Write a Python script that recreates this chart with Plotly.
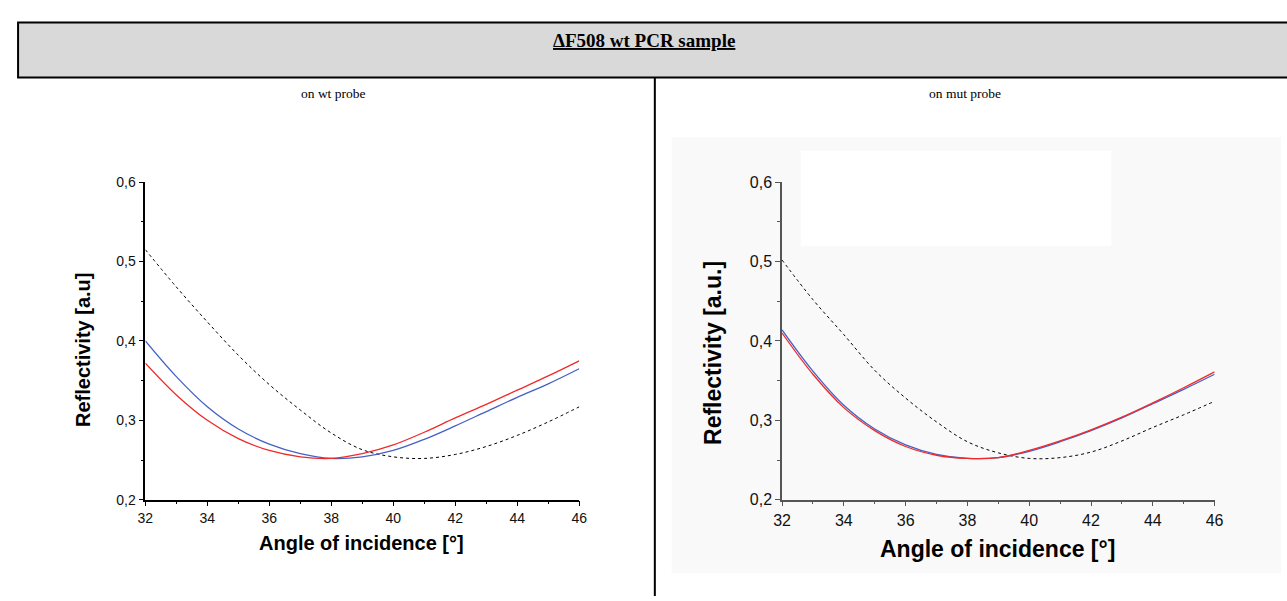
import plotly.graph_objects as go

W, H = 1287, 601

# ---------------- data ----------------
angles = [32, 33, 34, 35, 36, 37, 38, 39, 40, 41, 42, 43, 44, 45, 46]

wt_ref_dotted = [0.515, 0.468, 0.424, 0.382, 0.345, 0.313, 0.284, 0.263, 0.254, 0.252, 0.257, 0.267, 0.281, 0.298, 0.317]
wt_blue = [0.400, 0.355, 0.317, 0.289, 0.270, 0.258, 0.252, 0.254, 0.262, 0.276, 0.293, 0.311, 0.329, 0.346, 0.365]
wt_red = [0.372, 0.332, 0.300, 0.277, 0.262, 0.254, 0.252, 0.258, 0.269, 0.285, 0.303, 0.320, 0.338, 0.356, 0.375]

mut_ref_dotted = [0.502, 0.452, 0.408, 0.363, 0.328, 0.298, 0.273, 0.259, 0.252, 0.253, 0.260, 0.274, 0.291, 0.307, 0.324]
mut_blue = [0.414, 0.362, 0.319, 0.289, 0.269, 0.257, 0.252, 0.253, 0.261, 0.273, 0.287, 0.303, 0.321, 0.339, 0.358]
mut_red = [0.410, 0.358, 0.316, 0.287, 0.267, 0.256, 0.252, 0.253, 0.262, 0.274, 0.288, 0.304, 0.322, 0.341, 0.361]

x_tickvals = [32, 34, 36, 38, 40, 42, 44, 46]
x_ticktext = ["32", "34", "36", "38", "40", "42", "44", "46"]
y_tickvals = [0.2, 0.3, 0.4, 0.5, 0.6]
y_ticktext = ["0,2", "0,3", "0,4", "0,5", "0,6"]

title_text = "<b><u>ΔF508 wt PCR sample</u></b>"
left_sub = "on wt probe"
right_sub = "on mut probe"
y_title_left = "Reflectivity [a.u]"
y_title_right = "Reflectivity [a.u.]"
x_title = "Angle of incidence [°]"

BLUE = "#4461c4"
RED = "#f02a2a"


def px(x):
    return x / W


def py(y):
    return 1 - y / H


fig = go.Figure()

for xa, ya, dot, blue, red in [("x", "y", wt_ref_dotted, wt_blue, wt_red),
                               ("x2", "y2", mut_ref_dotted, mut_blue, mut_red)]:
    fig.add_trace(go.Scatter(x=angles, y=dot, mode="lines", xaxis=xa, yaxis=ya,
                             line=dict(color="black", width=1, dash="dot", shape="spline")))
    fig.add_trace(go.Scatter(x=angles, y=blue, mode="lines", xaxis=xa, yaxis=ya,
                             line=dict(color=BLUE, width=1.3, shape="spline")))
    fig.add_trace(go.Scatter(x=angles, y=red, mode="lines", xaxis=xa, yaxis=ya,
                             line=dict(color=RED, width=1.3, shape="spline")))


def xaxis_cfg(domain, color, fsize):
    return dict(domain=domain, range=[32, 46], tickmode="array", tickvals=x_tickvals,
                ticktext=x_ticktext, ticks="outside", ticklen=5, tickwidth=1.2, tickcolor=color,
                showline=True, linecolor=color, linewidth=1.6, showgrid=False, zeroline=False,
                tickfont=dict(family="Liberation Sans, Arial", size=fsize, color="#111"),
                minor=dict(tickmode="linear", tick0=32, dtick=1, ticks="outside", ticklen=3,
                           tickcolor=color, tickwidth=1.2, showgrid=False),
                fixedrange=True)


def yaxis_cfg(domain, anchor, color, fsize):
    return dict(domain=domain, anchor=anchor, range=[0.2, 0.6], tickmode="array",
                tickvals=y_tickvals, ticktext=y_ticktext, ticks="outside", ticklen=5,
                tickwidth=1.2, tickcolor=color, showline=True, linecolor=color, linewidth=1.6,
                showgrid=False, zeroline=False,
                tickfont=dict(family="Liberation Sans, Arial", size=fsize, color="#111"),
                minor=dict(tickmode="linear", tick0=0.2, dtick=0.05, ticks="outside", ticklen=3,
                           tickcolor=color, tickwidth=1.2, showgrid=False),
                fixedrange=True)


ydom = [py(506), py(179.3)]
fig.update_layout(
    width=W, height=H, margin=dict(l=0, r=0, t=0, b=0),
    paper_bgcolor="white", plot_bgcolor="rgba(0,0,0,0)", showlegend=False,
    xaxis=dict(anchor="y", **xaxis_cfg([px(138.3), px(578.3)], "black", 14)),
    yaxis=yaxis_cfg(ydom, "x", "black", 14),
    xaxis2=dict(anchor="y2", **xaxis_cfg([px(784), px(1222.7)], "#555555", 16)),
    yaxis2=yaxis_cfg(ydom, "x2", "#555555", 16),
)

shapes = [
    # very light textured panel of right chart
    dict(type="rect", xref="paper", yref="paper", x0=px(672), x1=px(1290), y0=py(582), y1=py(133),
         fillcolor="#f9f9f9", line=dict(width=0), layer="below"),
    dict(type="rect", xref="paper", yref="paper", x0=px(803), x1=px(1118), y0=py(245), y1=py(147),
         fillcolor="white", line=dict(width=0), layer="below"),
    # title band
    dict(type="rect", xref="paper", yref="paper", x0=px(9.2), x1=px(1300), y0=py(71.5), y1=py(14.8),
         fillcolor="#d9d9d9", line=dict(color="black", width=2), layer="below"),
    # divider
    dict(type="line", xref="paper", yref="paper", x0=px(655), x1=px(655), y0=py(72), y1=py(605),
         line=dict(color="black", width=2)),
]
fig.update_layout(shapes=shapes)

SERIF = "Liberation Serif, Times New Roman"
SANS = "Liberation Sans, Arial"
ann = [
    dict(text=title_text, x=px(643.5), y=py(33), font=dict(family=SERIF, size=19, color="black")),
    dict(text=left_sub, x=px(329), y=py(88), font=dict(family=SERIF, size=13.5, color="black")),
    dict(text=right_sub, x=px(970), y=py(88), font=dict(family=SERIF, size=13.5, color="black")),
    dict(text="<b>" + x_title + "</b>", x=px(358), y=py(551), font=dict(family=SANS, size=20, color="black")),
    dict(text="<b>" + x_title + "</b>", x=px(1003), y=py(557), font=dict(family=SANS, size=23, color="black")),
    dict(text="<b>" + y_title_left + "</b>", x=px(75), y=py(352), textangle=-90, font=dict(family=SANS, size=20, color="black")),
    dict(text="<b>" + y_title_right + "</b>", x=px(714), y=py(355), textangle=-90, font=dict(family=SANS, size=23, color="black")),
]
for a in ann:
    a.update(xref="paper", yref="paper", showarrow=False, xanchor="center", yanchor="middle")
fig.update_layout(annotations=ann)

fix_page = (
    "document.documentElement.style.margin='0px';"
    "document.documentElement.style.padding='0px';"
    "document.documentElement.style.overflow='hidden';"
    "document.body.style.margin='0px';"
    "document.body.style.padding='0px';"
    "document.body.style.overflow='hidden';"
    "var gds=document.getElementsByClassName('plotly-graph-div');"
    "for(var i=0;i<gds.length;i++){gds[i].style.position='fixed';gds[i].style.left='0px';gds[i].style.top='0px';}"
)

fig.write_html("out.html", config={"displayModeBar": False}, post_script=fix_page)
